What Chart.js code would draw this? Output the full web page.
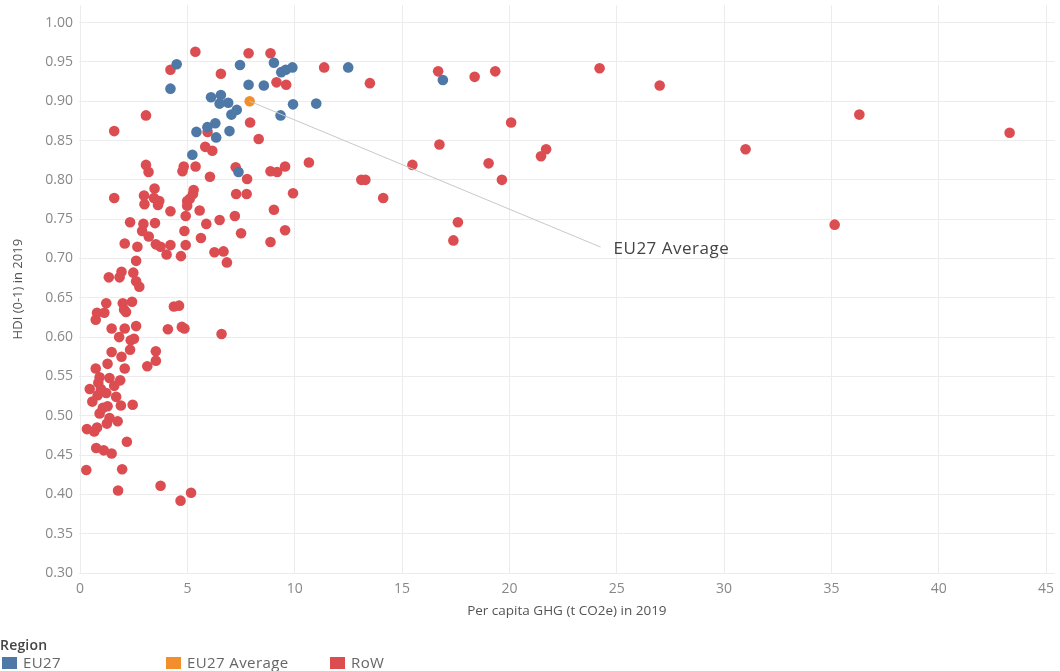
<!DOCTYPE html>
<html>
<head>
<meta charset="utf-8">
<script src="https://cdn.jsdelivr.net/npm/chart.js@4/dist/chart.umd.min.js"></script>
<style>
  html, body { margin: 0; padding: 0; background: #fff; }
  #wrap { position: relative; width: 1060px; height: 671px; }
  #legend { position: absolute; left: 0; top: 635px; font-family: "Open Sans", sans-serif; color: #666; font-size: 15px; letter-spacing: 0.4px; }
  #legend .title { font-weight: 600; color: #444; font-size: 14px; letter-spacing: 0.2px; }
  #legend .item { position: absolute; top: 17px; white-space: nowrap; line-height: 20px; }
  #legend .sw { display: inline-block; width: 15px; height: 12px; vertical-align: -1px; margin-right: 6px; }
</style>
</head>
<body>
<div id="wrap">
  <canvas id="chart" width="1060" height="671"></canvas>
  <div id="legend"></div>
</div>
<script>
// 축 눈금
const xTicks = [0, 5, 10, 15, 20, 25, 30, 35, 40, 45];
const yTicks = [0.30, 0.35, 0.40, 0.45, 0.50, 0.55, 0.60, 0.65, 0.70, 0.75, 0.80, 0.85, 0.90, 0.95, 1.00];

// EU27 국가 (GHG, HDI)
const eu27X = [4.5, 4.21, 7.45, 9.03, 7.85, 8.56, 9.37, 9.58, 9.89, 12.49, 6.1, 6.56, 6.5, 6.9, 7.3, 7.05, 9.92, 11.0, 9.34, 6.3, 5.93, 5.42, 6.96, 6.34, 5.23, 7.38, 16.9];
const eu27Y = [0.947, 0.916, 0.946, 0.949, 0.921, 0.920, 0.937, 0.940, 0.943, 0.943, 0.905, 0.908, 0.897, 0.898, 0.889, 0.883, 0.896, 0.897, 0.882, 0.872, 0.867, 0.861, 0.862, 0.854, 0.832, 0.810, 0.927];

// EU27 평균
const avgX = [7.9];
const avgY = [0.900];

// 기타 국가 (RoW)
const rowX = [5.37, 7.85, 8.87, 4.21, 6.56, 9.15, 9.6, 11.37, 13.5, 16.68, 18.38, 19.34, 24.2, 27.0, 36.3, 43.3, 31.0, 35.15,
  3.07, 1.59, 5.94, 7.92, 8.32, 5.83, 6.16, 20.08, 16.74, 15.48, 19.03, 21.71, 21.47, 13.1, 13.29, 19.65, 14.12, 17.6, 17.39,
  3.07, 3.19, 4.83, 4.77, 5.38, 6.05, 7.25, 7.78, 8.87, 9.18, 9.55, 10.66, 1.59, 3.47, 2.98, 3.44, 3.63, 3.0, 3.69, 4.21,
  5.29, 5.26, 5.11, 4.99, 4.99, 5.57, 4.92, 5.88, 6.5, 7.21, 7.27, 7.76, 9.92, 9.03, 2.33, 2.95, 3.49, 2.89, 3.2, 4.86,
  5.63, 7.5, 9.55, 2.08, 2.67, 3.53, 3.75, 4.21, 4.92, 8.87, 6.26, 6.68, 4.03, 4.7, 6.84, 2.61, 1.93, 2.48, 1.34, 1.84,
  2.61, 2.76, 1.22, 1.99, 2.42, 2.05, 2.14, 0.79, 1.13, 0.73, 4.37, 4.61, 1.47, 2.08, 2.61, 4.09, 4.74, 4.86, 6.59, 1.82,
  2.36, 2.51, 2.33, 1.47, 1.93, 3.53, 3.53, 3.13, 1.28, 0.73, 2.08, 0.91, 1.37, 1.87, 0.85, 0.45, 1.59, 0.97, 1.22, 0.82,
  1.68, 0.57, 1.28, 1.06, 1.9, 2.45, 0.91, 1.37, 1.75, 1.25, 0.32, 0.66, 0.79, 2.18, 0.75, 1.1, 1.47, 0.29, 1.96, 1.77,
  3.75, 5.17, 4.68];
const rowY = [0.963, 0.961, 0.961, 0.940, 0.935, 0.924, 0.921, 0.943, 0.923, 0.938, 0.931, 0.938, 0.942, 0.920, 0.883, 0.860, 0.839, 0.743,
  0.882, 0.862, 0.861, 0.873, 0.852, 0.842, 0.837, 0.873, 0.845, 0.819, 0.821, 0.839, 0.830, 0.800, 0.800, 0.800, 0.777, 0.746, 0.723,
  0.819, 0.810, 0.817, 0.811, 0.817, 0.804, 0.816, 0.801, 0.811, 0.810, 0.817, 0.822, 0.777, 0.789, 0.780, 0.777, 0.768, 0.769, 0.773, 0.760,
  0.787, 0.782, 0.776, 0.773, 0.767, 0.761, 0.754, 0.744, 0.749, 0.754, 0.782, 0.782, 0.783, 0.762, 0.746, 0.744, 0.745, 0.735, 0.728, 0.735,
  0.726, 0.732, 0.736, 0.719, 0.715, 0.718, 0.715, 0.717, 0.717, 0.721, 0.708, 0.709, 0.705, 0.703, 0.695, 0.697, 0.683, 0.682, 0.676, 0.676,
  0.671, 0.664, 0.643, 0.643, 0.645, 0.635, 0.632, 0.631, 0.631, 0.622, 0.639, 0.640, 0.611, 0.611, 0.614, 0.610, 0.613, 0.611, 0.604, 0.600,
  0.596, 0.598, 0.584, 0.581, 0.575, 0.582, 0.570, 0.563, 0.566, 0.560, 0.560, 0.549, 0.548, 0.545, 0.542, 0.534, 0.538, 0.534, 0.529, 0.526,
  0.524, 0.518, 0.512, 0.510, 0.513, 0.514, 0.503, 0.497, 0.493, 0.490, 0.483, 0.480, 0.485, 0.467, 0.459, 0.456, 0.452, 0.431, 0.432, 0.405,
  0.411, 0.402, 0.392];

const regions = ['EU27', 'EU27 Average', 'RoW'];
const colors = ['#4e79a7', '#f28e2b', '#dc4d52'];

function toPoints(xs, ys) {
    return xs.map((x, i) => ({ x: x, y: ys[i] }));
}

// EU27 평균 주석 (선 + 라벨)
const avgLabel = {
    id: 'avgLabel',
    afterDatasetsDraw(chart) {
        const pt = chart.getDatasetMeta(1).data[0];
        if (!pt) return;
        const xs = chart.scales.x, ys = chart.scales.y;
        const lx = xs.getPixelForValue(24.85), ly = ys.getPixelForValue(0.712);
        const ctx = chart.ctx;
        ctx.save();
        ctx.strokeStyle = '#c8c8c8';
        ctx.lineWidth = 1;
        ctx.beginPath();
        ctx.moveTo(pt.x, pt.y);
        ctx.lineTo(lx - 13, ly - 2);
        ctx.stroke();
        ctx.fillStyle = '#444';
        ctx.font = '17px "Open Sans", sans-serif';
        if ('letterSpacing' in ctx) ctx.letterSpacing = '0.5px';
        ctx.textBaseline = 'middle';
        ctx.fillText('EU27 Average', lx, ly);
        ctx.restore();
    }
};

const tickFont = { family: '"Open Sans", sans-serif', size: 14 };

new Chart(document.getElementById('chart').getContext('2d'), {
    type: 'scatter',
    data: {
        datasets: [
            { label: regions[0], data: toPoints(eu27X, eu27Y), backgroundColor: colors[0] },
            { label: regions[1], data: toPoints(avgX, avgY), backgroundColor: colors[1] },
            { label: regions[2], data: toPoints(rowX, rowY), backgroundColor: colors[2] }
        ]
    },
    options: {
        responsive: false,
        animation: false,
        layout: { padding: { left: 0, right: 0, top: 0, bottom: 49 } },
        elements: { point: { radius: 5.3, borderWidth: 0, hoverRadius: 5.3 } },
        plugins: { legend: { display: false }, tooltip: { enabled: false } },
        scales: {
            x: {
                type: 'linear',
                min: -0.05,
                max: 45.4,
                afterBuildTicks: s => { s.ticks = xTicks.map(v => ({ value: v })); },
                afterFit: s => { s.height = 49; s.paddingLeft = 0; s.paddingRight = 0; },
                grid: { color: '#ececec', drawTicks: false },
                border: { display: false },
                ticks: { color: '#888', font: tickFont, padding: 8 },
                title: {
                    display: true,
                    text: 'Per capita GHG (t CO2e) in 2019',
                    color: '#555',
                    font: { family: '"Open Sans", sans-serif', size: 13.5 },
                    padding: { top: 0, bottom: 3 }
                }
            },
            y: {
                type: 'linear',
                min: 0.30,
                max: 1.022,
                afterBuildTicks: s => { s.ticks = yTicks.map(v => ({ value: v })); },
                afterFit: s => { s.width = 79; s.paddingTop = 0; s.paddingBottom = 0; },
                grid: { color: '#ececec', drawTicks: false },
                border: { display: false },
                ticks: { color: '#888', font: tickFont, padding: 6, callback: v => v.toFixed(2) },
                title: {
                    display: true,
                    text: 'HDI (0-1) in 2019',
                    color: '#555',
                    font: { family: '"Open Sans", sans-serif', size: 13 },
                    padding: { top: 10, bottom: 0 }
                }
            }
        }
    },
    plugins: [avgLabel]
});

// 범례
const legend = document.getElementById('legend');
legend.innerHTML = '<div class="title">Region</div>';
const legendLeft = [2, 166, 330];
regions.forEach((r, i) => {
    const d = document.createElement('div');
    d.className = 'item';
    d.style.left = legendLeft[i] + 'px';
    d.innerHTML = '<span class="sw" style="background:' + colors[i] + '"></span>' + r;
    legend.appendChild(d);
});
</script>
</body>
</html>
